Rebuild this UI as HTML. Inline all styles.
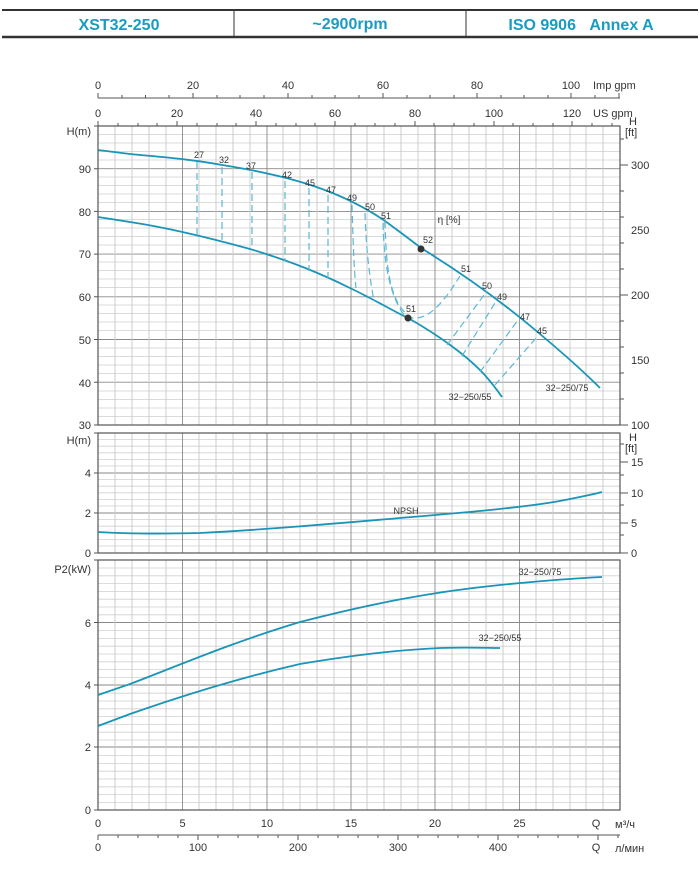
<!DOCTYPE html>
<html><head><meta charset="utf-8"><style>
body{margin:0;background:#fff;}
svg{display:block;font-family:"Liberation Sans",sans-serif;}
</style></head><body>
<svg width="700" height="873" viewBox="0 0 700 873" xmlns="http://www.w3.org/2000/svg">
<!-- header -->
<line x1="2" y1="10" x2="698" y2="10" stroke="#333" stroke-width="2"/>
<line x1="2" y1="37" x2="698" y2="37" stroke="#333" stroke-width="2.5"/>
<line x1="234" y1="10" x2="234" y2="37" stroke="#333" stroke-width="1"/>
<line x1="466" y1="10" x2="466" y2="37" stroke="#333" stroke-width="1"/>
<g fill="#1a9bc2" font-weight="bold" font-size="16" text-anchor="middle">
<text x="119" y="30">XST32-250</text>
<text x="350" y="29">~2900rpm</text>
<text x="581" y="30">ISO 9906&#160;&#160;&#160;Annex A</text>
</g>

<g id="grids" fill="none">
<g stroke="#d0d0d0" stroke-width="0.8">
<path d="M98 134.5H620M98 143H620M98 151.5H620M98 160H620M98 177H620M98 185.5H620M98 194H620M98 202.5H620M98 219.5H620M98 228H620M98 236.5H620M98 245H620M98 262H620M98 270.5H620M98 279H620M98 287.5H620M98 305H620M98 313.5H620M98 322H620M98 330.5H620M98 348H620M98 356.5H620M98 365H620M98 373.5H620M98 391H620M98 399.5H620M98 408H620M98 416.5H620"/>
<path d="M98 439.6H620M98 446.2H620M98 452.8H620M98 459.4H620M98 466H620M98 479.6H620M98 486.2H620M98 492.8H620M98 499.4H620M98 506H620M98 519.6H620M98 526.2H620M98 532.8H620M98 539.4H620M98 546H620"/>
<path d="M98 568H620M98 575.8H620M98 583.6H620M98 591.4H620M98 599.2H620M98 607H620M98 614.8H620M98 630.6H620M98 638.4H620M98 646.2H620M98 654H620M98 661.8H620M98 669.6H620M98 677.4H620M98 693.2H620M98 701H620M98 708.8H620M98 716.6H620M98 724.4H620M98 732.2H620M98 740H620M98 755.6H620M98 763.4H620M98 771.2H620M98 779H620M98 786.8H620M98 794.6H620M98 802.4H620"/>
</g>
<g stroke="#8a8a8a" stroke-width="0.9">
<path d="M98 168.7H620M98 211.4H620M98 254.1H620M98 296.8H620M98 339.5H620M98 382.2H620"/>
<path d="M98 513H620M98 473H620"/>
<path d="M98 747H620M98 685H620M98 622.5H620"/>
</g>
<g stroke="#c8c8c8" stroke-width="0.9">
<path d="M115 126V425M132 126V425M149 126V425M166 126V425M199 126V425M216 126V425M233 126V425M250 126V425M283 126V425M300 126V425M317 126V425M334 126V425M367 126V425M384 126V425M401 126V425M418 126V425M452 126V425M469 126V425M486 126V425M503 126V425M536 126V425M553 126V425M570 126V425M586 126V425M603 126V425"/>
<path d="M115 433V553M132 433V553M149 433V553M166 433V553M199 433V553M216 433V553M233 433V553M250 433V553M283 433V553M300 433V553M317 433V553M334 433V553M367 433V553M384 433V553M401 433V553M418 433V553M452 433V553M469 433V553M486 433V553M503 433V553M536 433V553M553 433V553M570 433V553M586 433V553M603 433V553"/>
<path d="M115 560V810M132 560V810M149 560V810M166 560V810M199 560V810M216 560V810M233 560V810M250 560V810M283 560V810M300 560V810M317 560V810M334 560V810M367 560V810M384 560V810M401 560V810M418 560V810M452 560V810M469 560V810M486 560V810M503 560V810M536 560V810M553 560V810M570 560V810M586 560V810M603 560V810"/>
</g>
<g stroke="#8a8a8a" stroke-width="0.9">
<path d="M182.5 126V425M267 126V425M351 126V425M435 126V425M519.5 126V425"/>
<path d="M182.5 433V553M267 433V553M351 433V553M435 433V553M519.5 433V553"/>
<path d="M182.5 560V810M267 560V810M351 560V810M435 560V810M519.5 560V810"/>
</g>
<g stroke="#555" stroke-width="1.2">
<rect x="98" y="126" width="522" height="299"/>
<rect x="98" y="433" width="522" height="120"/>
<rect x="98" y="560" width="522" height="250"/>
</g>
</g>

<g stroke="#555" stroke-width="1" fill="none">
<path d="M98 98H620"/>
<path d="M98 93V98M122 95V98M145.5 95V98M169 95V98M193 93V98M217 95V98M240 95V98M264 95V98M288 93V98M312 95V98M335 95V98M359 95V98M383 93V98M407 95V98M430 95V98M454 95V98M477 93V98M501 95V98M524 95V98M548 95V98M571 93V98M595 95V98M619 93V98"/>
<path d="M98 121V126M118 123V126M138 123V126M157 123V126M177 121V126M197 123V126M217 123V126M236 123V126M256 121V126M276 123V126M296 123V126M315 123V126M335 121V126M355 123V126M375 123V126M395 123V126M415 121V126M434 123V126M454 123V126M474 123V126M494 121V126M513 123V126M533 123V126M553 123V126M572 121V126M592 123V126M612 123V126"/>
<path d="M98 835H620"/>
<path d="M98 835V840M118 835V838M138 835V838M158 835V838M178 835V838M198 835V840M218 835V838M238 835V838M258 835V838M278 835V838M298 835V840M318 835V838M338 835V838M358 835V838M378 835V838M398 835V840M418 835V838M438 835V838M458 835V838M478 835V838M498 835V840M518 835V838M538 835V838M558 835V838M578 835V838M598 835V840M618 835V838"/>
<path d="M94 168.7H98M94 211.4H98M94 254.1H98M94 296.8H98M94 339.5H98M94 382.2H98M94 425H98M94 126H98"/>
<path d="M94 553H98M94 513H98M94 473H98M94 433H98"/>
<path d="M94 810H98M94 747H98M94 685H98M94 622.5H98M94 560H98"/>
<path d="M620 425H628M620 399H624M620 373H624M620 347H624M620 321H624M620 295H628M620 269H624M620 243H624M620 217H624M620 191H624M620 165H628M620 139H624"/>
<path d="M620 553H628M620 535H624M620 523H628M620 505H624M620 493H628M620 475H624M620 462H628M620 444H624"/>
</g>
<g font-size="11" fill="#333">
<g text-anchor="middle">
<text x="98" y="89">0</text><text x="193" y="89">20</text><text x="288" y="89">40</text><text x="383" y="89">60</text><text x="477" y="89">80</text><text x="571" y="89">100</text>
<text x="98" y="117">0</text><text x="177" y="117">20</text><text x="256" y="117">40</text><text x="335" y="117">60</text><text x="415" y="117">80</text><text x="494" y="117">100</text><text x="572" y="117">120</text>
<text x="98" y="827">0</text><text x="182.5" y="827">5</text><text x="267" y="827">10</text><text x="351" y="827">15</text><text x="435" y="827">20</text><text x="519.5" y="827">25</text><text x="596" y="827">Q</text>
<text x="98" y="851">0</text><text x="198" y="851">100</text><text x="298" y="851">200</text><text x="398" y="851">300</text><text x="498" y="851">400</text><text x="596" y="851">Q</text>
</g>
<text x="593" y="89">Imp gpm</text>
<text x="593" y="117">US gpm</text>
<text x="615" y="828">м³/ч</text>
<text x="615" y="852">л/мин</text>
<g text-anchor="end">
<text x="91" y="135">H(m)</text>
<text x="91" y="173">90</text><text x="91" y="216">80</text><text x="91" y="258">70</text><text x="91" y="301">60</text><text x="91" y="344">50</text><text x="91" y="387">40</text><text x="91" y="429">30</text>
<text x="91" y="444">H(m)</text>
<text x="91" y="477">4</text><text x="91" y="517">2</text><text x="91" y="557">0</text>
<text x="91" y="573">P2(kW)</text>
<text x="91" y="627">6</text><text x="91" y="689">4</text><text x="91" y="751">2</text><text x="91" y="814">0</text>
</g>
<text x="629" y="125">H</text><text x="625" y="136">[ft]</text>
<text x="631" y="169">300</text><text x="631" y="234">250</text><text x="631" y="299">200</text><text x="631" y="364">150</text><text x="631" y="429">100</text>
<text x="629" y="441">H</text><text x="625" y="452">[ft]</text>
<text x="631" y="466">15</text><text x="631" y="497">10</text><text x="631" y="527">5</text><text x="631" y="557">0</text>
</g>

<g fill="none" stroke="#1a95b8" stroke-width="1.8">
<path d="M98 150 L130 154 C160 157 190 159 222 165 C260 171 300 180 330 192 C355 202 372 212 385 221 C400 232 412 241 421 248 C460 272 500 300 540 334 C565 355 585 373 600 388" />
<path d="M98 217 L130 222 C170 228 210 238 250 249 C290 261 320 273 352 289 C375 300 395 312 408 318 C440 336 465 355 480 370 C490 380 497 390 502 397"/>
<path d="M98 532 C130 534 160 534 200 533 C260 530 330 524 400 518 C470 512 530 507 565 500 C585 496 595 494 602 492"/>
<path d="M98 695 L130 684 C170 669 230 643 300 622 C370 604 430 592 500 585 C550 580 580 578 602 577"/>
<path d="M98 726 L130 714 C170 700 230 680 300 664 C360 654 400 650 440 648 C470 647 490 648 500 648"/>
</g>
<g fill="none" stroke="#5bb8d6" stroke-width="1.2" stroke-dasharray="7,4">
<path d="M197 162V235M222 167V241M252 172V249M285 181V261M309 188V270M328 195V278"/>
<path d="M352 205 C353 240 354 270 356 288"/>
<path d="M365 213 C366 250 370 280 374 301"/>
<path d="M383 223 C384 270 392 300 405 316"/>
<path d="M385 221 C386 270 390 305 412 318 C430 320 445 300 460 276"/>
<path d="M447 345 L487 291"/>
<path d="M462 356 L495 303"/>
<path d="M480 372 L518 320"/>
<path d="M495 385 L537 337"/>
</g>
<circle cx="421" cy="249" r="3.5" fill="#333"/>
<circle cx="408" cy="318" r="3.5" fill="#333"/>
<g font-size="9" fill="#333" text-anchor="middle">
<text x="199" y="158">27</text><text x="224" y="163">32</text><text x="251" y="169">37</text><text x="287" y="178">42</text><text x="310" y="186">45</text><text x="331" y="193">47</text><text x="352" y="201">49</text><text x="370" y="210">50</text><text x="386" y="219">51</text>
<text x="428" y="243">52</text><text x="466" y="272">51</text><text x="487" y="289">50</text><text x="502" y="300">49</text><text x="525" y="320">47</text><text x="542" y="334">45</text>
<text x="411" y="312">51</text>
<text x="449" y="223" font-size="10">η [%]</text>
<text x="470" y="400">32−250/55</text>
<text x="567" y="391">32−250/75</text>
<text x="406" y="514">NPSH</text>
<text x="540" y="575">32−250/75</text>
<text x="500" y="641">32−250/55</text>
</g>
</svg>
</body></html>
